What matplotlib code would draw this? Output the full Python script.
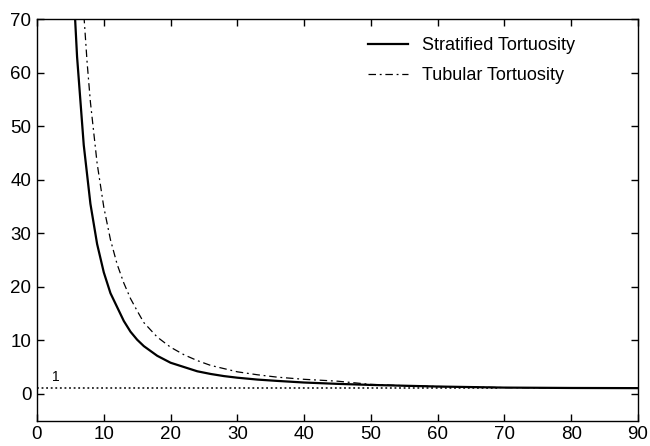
import matplotlib
matplotlib.use("Agg")
import matplotlib.pyplot as plt

plt.rcParams['font.family'] = ['Liberation Sans', 'DejaVu Sans']

# Stratified tortuosity (solid)
x_strat = [5.5, 6, 7, 8, 9, 10, 11, 12, 13, 14, 15, 16, 18, 20, 22, 24, 26, 28,
           30, 33, 36, 40, 45, 50, 55, 60, 65, 70, 80, 90]
y_strat = [75, 63, 46.5, 35.5, 28, 22.7, 18.8, 16.2, 13.6, 11.6, 10.1, 8.9, 7.1,
           5.8, 5.0, 4.2, 3.7, 3.3, 3.0, 2.65, 2.4, 2.1, 1.85, 1.65, 1.5, 1.35,
           1.25, 1.15, 1.08, 1.05]

# Tubular tortuosity (dash-dot)
x_tub = [6.5, 7, 7.5, 8, 9, 10, 11, 12, 13, 14, 15, 16, 18, 20, 22, 24, 26, 28,
         30, 33, 36, 40, 45, 50, 55, 60, 65, 70, 80, 90]
y_tub = [82.7, 71.2, 62, 54.5, 43.1, 34.9, 28.8, 24.2, 20.7, 17.8, 15.5, 13.3,
         10.6, 8.7, 7.3, 6.2, 5.3, 4.7, 4.1, 3.55, 3.1, 2.7, 2.35, 1.75, 1.5,
         1.35, 1.25, 1.15, 1.08, 1.05]

# Reference line at tortuosity = 1
x_ref = [0, 69]
y_ref = [1, 1]

xticks = [0, 10, 20, 30, 40, 50, 60, 70, 80, 90]
yticks = [0, 10, 20, 30, 40, 50, 60, 70]

fig = plt.figure(figsize=(6.5, 4.46), dpi=100)
ax = fig.add_axes([37/650, 1 - 420.5/446, (638-37)/650, (420.5-19.3)/446])

ax.plot(x_ref, y_ref, linestyle=(0, (1.2, 1.8)), color='black', lw=1.1)
ax.plot(x_tub, y_tub, linestyle=(0, (6, 3, 1.5, 3)), color='black', lw=0.9,
        label='Tubular Tortuosity')
ax.plot(x_strat, y_strat, '-', color='black', lw=1.6, label='Stratified Tortuosity')
ax.text(2.3, 2.3, '1', fontsize=10)

ax.set_xlim(0, 90)
ax.set_ylim(-5, 70)
ax.set_xticks(xticks)
ax.set_yticks(yticks)
ax.tick_params(direction='in', top=True, right=True, length=5, width=1,
               labelsize=13.5, pad=4)
for s in ax.spines.values():
    s.set_linewidth(1)

h, l = ax.get_legend_handles_labels()
ax.legend([h[1], h[0]], [l[1], l[0]], loc='upper left',
          bbox_to_anchor=(0.551, 0.955), frameon=False, fontsize=13,
          handlelength=2.2, handletextpad=0.8, labelspacing=0.7,
          borderpad=0, borderaxespad=0)

fig.savefig('out.png', dpi=100)
